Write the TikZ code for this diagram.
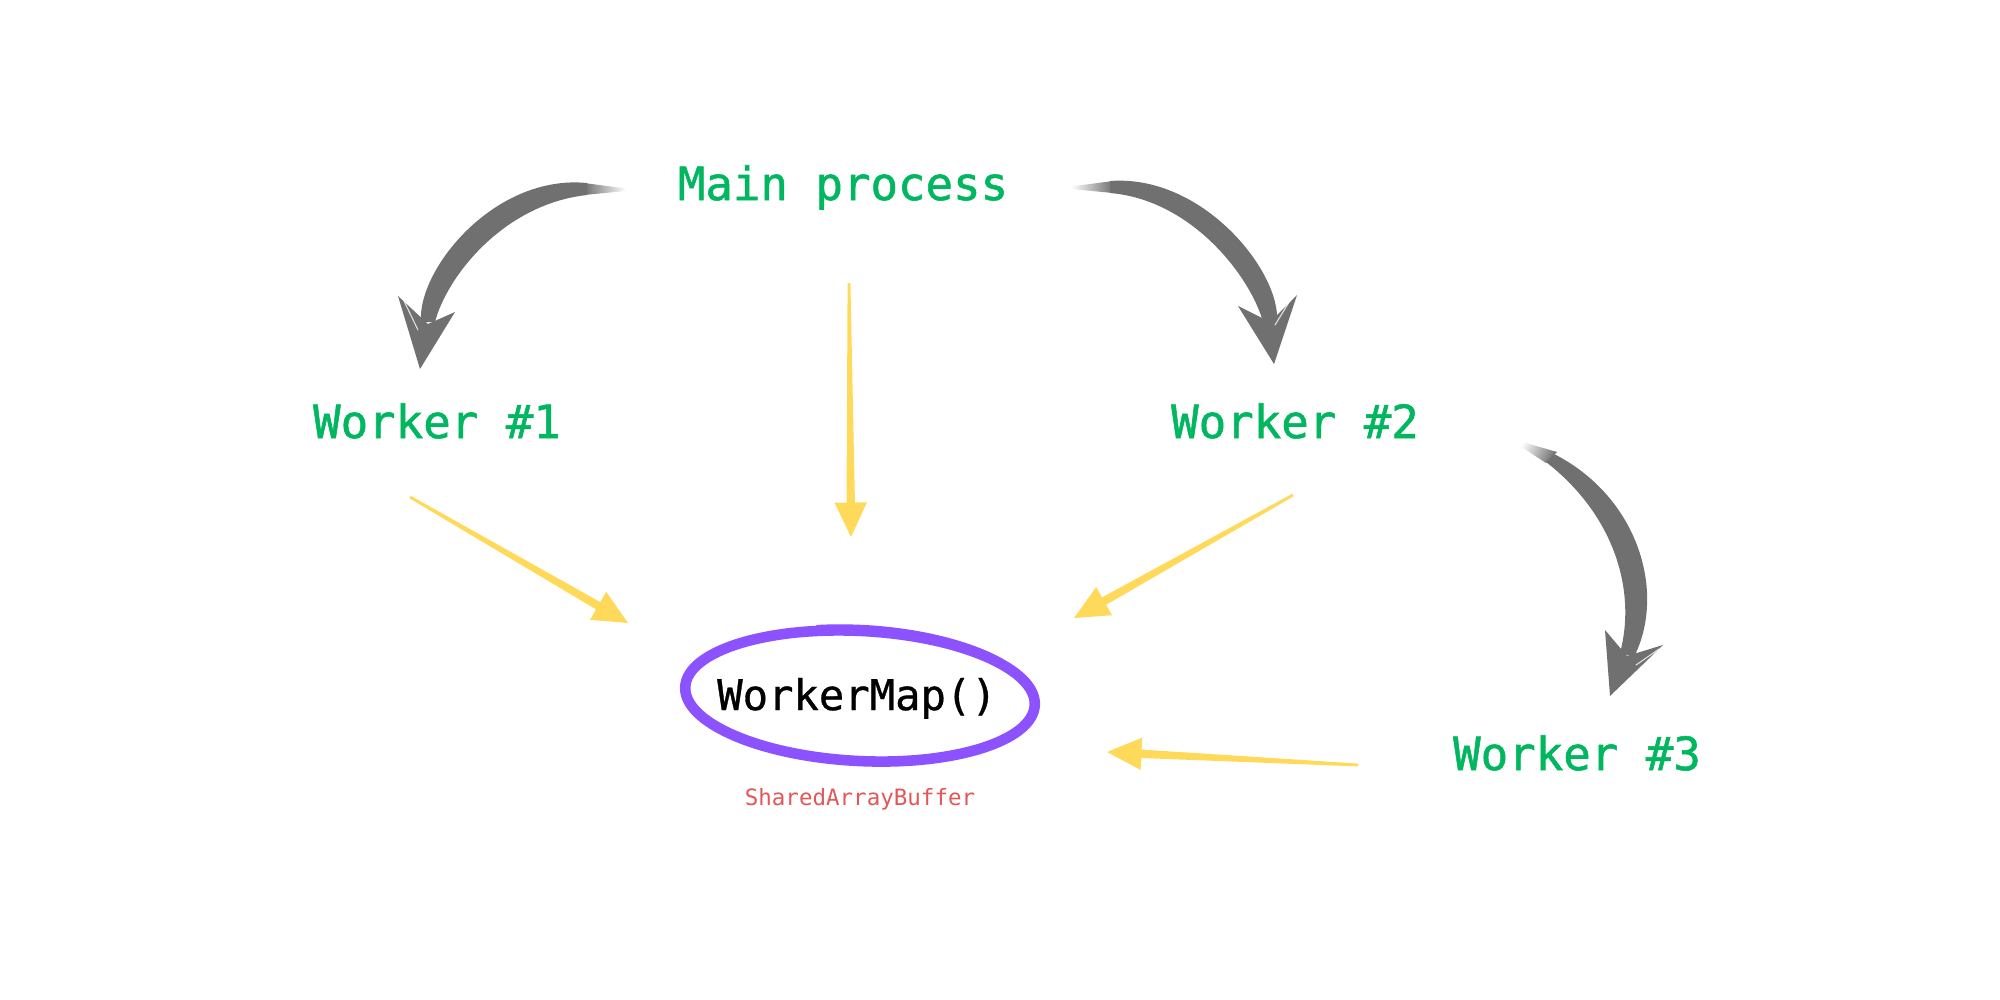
\documentclass[tikz,border=0pt]{standalone}
\usepackage{fontspec}
\setmonofont{DejaVu Sans Mono}
\newfontfamily\lblfont[FakeBold=1.2]{DejaVu Sans Mono}
\newfontfamily\mapfont[FakeBold=0.8]{DejaVu Sans Mono}
\usetikzlibrary{calc}
\definecolor{grn}{RGB}{0,183,96}
\definecolor{purp}{RGB}{140,82,255}
\definecolor{yel}{RGB}{255,218,90}
\definecolor{gry}{RGB}{112,112,112}
\definecolor{redt}{RGB}{226,88,88}
\newcommand\yarrow[2]{%
  \path ($(#2)!9.8pt!(#1)$) coordinate (hb);
  \fill[yel] ($(#1)!0.4pt!90:(#2)$) -- ($(hb)!1.2pt!-90:(#1)$) -- ($(hb)!4.6pt!-90:(#1)$) -- (#2)
    -- ($(hb)!4.6pt!90:(#1)$) -- ($(hb)!1.2pt!90:(#1)$) -- ($(#1)!0.4pt!-90:(#2)$) -- cycle;}
\begin{document}
\begin{tikzpicture}[x=0.01cm,y=-0.01cm,
  lbl/.style={font=\lblfont\fontsize{13pt}{15pt}\selectfont, text=grn, inner sep=0pt, anchor=base},
  mapl/.style={font=\mapfont\fontsize{12pt}{14pt}\selectfont, text=black, inner sep=0pt, anchor=base},
  sabl/.style={font=\ttfamily\fontsize{6.4pt}{8pt}\selectfont, text=redt, inner sep=0pt, anchor=base},
  brushline/.style={white, line width=0.3pt, opacity=0.8, line cap=round}]
\fill[white] (0,0) rectangle (2000,1000);
\useasboundingbox (0,0) rectangle (2000,1000);

% text nodes
\node[lbl] (main) at (843,200) {Main process};
\node[lbl] (w1) at (437,438) {Worker \#1};
\node[lbl] (w2) at (1295,438) {Worker \#2};
\node[lbl] (w3) at (1577,770) {Worker \#3};
\node[mapl] (wm) at (857,710) {WorkerMap()};
\node[sabl] (sab) at (860,805) {SharedArrayBuffer};

% hand-drawn ellipse round WorkerMap()
\coordinate (ec) at (860,696);
\begin{scope}[rotate around={-3:(ec)}]
  \draw[purp, line width=3pt] (ec) ellipse [x radius=175, y radius=65];
  \draw[purp, line width=1.8pt, line cap=round] ($(ec)+(255:176 and 68)$) arc [start angle=255, end angle=322, x radius=176, y radius=68];
\end{scope}

% yellow arrows
\coordinate (ya1) at (410,497);  \coordinate (yt1) at (628,623);
\coordinate (ya2) at (849,283);  \coordinate (yt2) at (851,537);
\coordinate (ya3) at (1293,495); \coordinate (yt3) at (1074,618);
\coordinate (ya4) at (1358,765); \coordinate (yt4) at (1107,752);
\yarrow{ya1}{yt1}
\yarrow{ya2}{yt2}
\yarrow{ya3}{yt3}
\yarrow{ya4}{yt4}

% gray brush arrow: Main -> Worker #1
\shade[left color=gry, right color=white] (584,183) -- (626,188.5) -- (626,191) -- (584,195) -- cycle;
\fill[gry] (587,183) .. controls (494,174) and (417,270) .. (421,322) -- (435,322) .. controls (447,276) and (504,204) .. (587,195) -- cycle;
\fill[gry] (398,296) -- (420,369) -- (455,312) -- (428,324) -- cycle;
\draw[brushline] (404,301) -- (418,330);

% gray brush arrow: Main -> Worker #2
\shade[left color=white, right color=gry] (1113,181) -- (1071,186.5) -- (1071,189) -- (1113,193) -- cycle;
\fill[gry] (1110,181) .. controls (1203,174) and (1281,272) .. (1277,322) -- (1263,322) .. controls (1251,278) and (1193,200) .. (1110,193) -- cycle;
\fill[gry] (1238,306) -- (1274,364) -- (1297,295) -- (1270,322) -- cycle;
\draw[brushline] (1291,299) -- (1275,325);

% gray brush arrow: Worker #2 -> Worker #3
\shade[top color=white, bottom color=gry, shading angle=63] (1557,452) -- (1519,441) -- (1517,444) -- (1546,463) -- cycle;
\fill[gry] (1554,454) .. controls (1637,496) and (1667,591) .. (1634,657) -- (1620,653) .. controls (1637,589) and (1613,514) .. (1546,462) -- cycle;
\fill[gry] (1605,630) -- (1610,696) -- (1663,645) -- (1627,656) -- cycle;
\draw[brushline] (1659,649) -- (1636,665);
\end{tikzpicture}
\end{document}
